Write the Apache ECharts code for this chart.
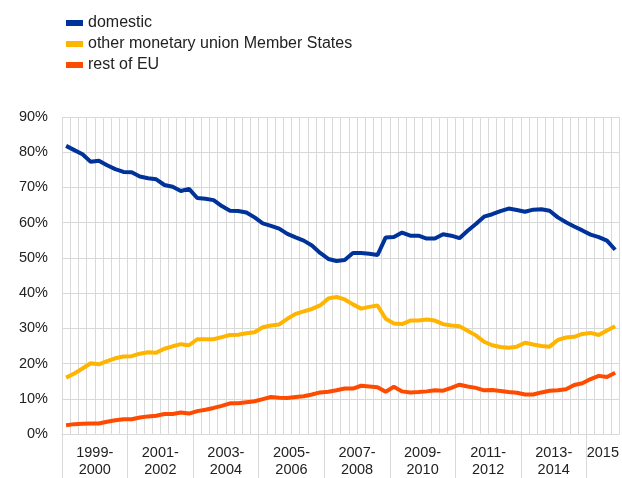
<!DOCTYPE html>
<html>
<head>
<meta charset="utf-8">
<script src="https://cdn.jsdelivr.net/npm/echarts@6/dist/echarts.min.js"></script>
<style>
  html, body { margin: 0; padding: 0; background: #fff; }
  #chart { width: 622px; height: 478px; }
</style>
</head>
<body>
<div id="chart"></div>
<script>
// quarterly data, 1999Q1 - 2015Q4 (%)
var years = [];
for (var y = 1999; y <= 2015; y++) years.push(y);
var quarters = [];
years.forEach(function (y) {
  for (var q = 1; q <= 4; q++) quarters.push(y + "Q" + q);
});

var domestic = [81.8, 80.6, 79.4, 77.3, 77.6, 76.3, 75.2, 74.4, 74.3, 73.1, 72.6, 72.3, 70.7, 70.2, 69.0, 69.6,
  67.0, 66.8, 66.4, 64.7, 63.4, 63.3, 62.9, 61.5, 59.8, 59.1, 58.3, 56.8, 55.8, 54.9, 53.5, 51.4,
  49.7, 49.1, 49.4, 51.4, 51.4, 51.2, 50.8, 55.8, 55.9, 57.2, 56.3, 56.3, 55.5, 55.5, 56.7, 56.3,
  55.6, 57.7, 59.6, 61.7, 62.4, 63.3, 64.0, 63.6, 63.1, 63.7, 63.8, 63.4, 61.5, 60.1, 58.9, 57.8,
  56.6, 55.9, 54.9, 52.3];
var otherMU = [16.0, 17.2, 18.6, 20.1, 19.8, 20.7, 21.5, 22.0, 22.1, 22.8, 23.2, 23.1, 24.2, 24.9, 25.5, 25.2,
  26.9, 26.9, 26.9, 27.5, 28.1, 28.2, 28.6, 28.9, 30.3, 30.8, 31.1, 32.7, 34.1, 34.8, 35.5, 36.5,
  38.5, 38.9, 38.2, 36.8, 35.6, 36.1, 36.5, 32.7, 31.4, 31.2, 32.2, 32.2, 32.5, 32.2, 31.2, 30.8,
  30.6, 29.3, 28.0, 26.2, 25.2, 24.7, 24.5, 24.8, 25.9, 25.4, 25.0, 24.8, 26.7, 27.4, 27.6, 28.4,
  28.7, 28.1, 29.4, 30.6];
var restEU = [2.5, 2.8, 2.9, 3.0, 3.0, 3.5, 3.9, 4.2, 4.2, 4.7, 5.0, 5.2, 5.7, 5.7, 6.1, 5.8,
  6.5, 6.9, 7.4, 8.0, 8.7, 8.7, 9.0, 9.3, 9.9, 10.5, 10.3, 10.2, 10.5, 10.7, 11.2, 11.8,
  12.0, 12.4, 12.9, 12.9, 13.7, 13.5, 13.3, 12.0, 13.4, 12.1, 11.8, 11.9, 12.1, 12.4, 12.3, 13.1,
  14.0, 13.5, 13.1, 12.4, 12.5, 12.2, 11.9, 11.7, 11.2, 11.2, 11.8, 12.3, 12.4, 12.7, 13.9, 14.4,
  15.6, 16.5, 16.2, 17.4];

// two-year bands on the x axis (quarters per band)
var bandLabels = ["1999-\n2000", "2001-\n2002", "2003-\n2004", "2005-\n2006", "2007-\n2008",
  "2009-\n2010", "2011-\n2012", "2013-\n2014", "2015"];
var bandSizes = [8, 8, 8, 8, 8, 8, 8, 8, 4];

var bandEdges = [0], bandCenters = [];
bandSizes.forEach(function (n, i) {
  bandCenters.push(bandEdges[i] + n / 2);
  bandEdges.push(bandEdges[i] + n);
});

var gridColor = "#d9d9d9";
var textColor = "#222";
var font = "Liberation Sans, Arial, sans-serif";

var myChart = echarts.init(document.getElementById("chart"));
var option = {
  animation: false,
  color: ["#003399", "#ffb400", "#ff4b00"],
  textStyle: { fontFamily: font },
  legend: {
    orient: "vertical",
    left: 61,
    top: 10,
    itemWidth: 17,
    itemHeight: 6,
    itemGap: 5,
    icon: "rect",
    textStyle: { fontSize: 16, color: textColor, fontFamily: font },
    data: ["domestic", "other monetary union Member States", "rest of EU"],
  },
  grid: {
    left: 62,
    top: 117,
    width: 561,
    bottom: 43,
  },
  xAxis: [
    {
      type: "category",
      data: quarters,
      boundaryGap: true,
      axisLine: { show: true, lineStyle: { color: gridColor, width: 1 } },
      axisTick: { show: false },
      axisLabel: { show: false },
      //每个季度一条竖线
      splitLine: { show: true, interval: 0, lineStyle: { color: gridColor, width: 1 } },
    },
    {
      // only used for the band ticks and the band labels
      type: "value",
      position: "bottom",
      min: 0,
      max: bandEdges[bandEdges.length - 1],
      axisLine: { show: false },
      splitLine: { show: false },
      axisTick: {
        show: true,
        length: 44,
        customValues: bandEdges.slice(0, -1),
        lineStyle: { color: gridColor, width: 1 },
      },
      axisLabel: {
        show: true,
        customValues: bandCenters,
        margin: 10,
        fontSize: 14.5,
        lineHeight: 17,
        color: textColor,
        fontFamily: font,
        formatter: function (v) {
          var i = bandCenters.indexOf(v);
          return i >= 0 ? bandLabels[i] : "";
        },
      },
    },
  ],
  yAxis: {
    type: "value",
    min: 0,
    max: 90,
    interval: 10,
    axisLine: { show: false },
    axisTick: { show: false },
    axisLabel: {
      formatter: "{value}%",
      fontSize: 14.5,
      color: textColor,
      margin: 14,
      fontFamily: font,
    },
    splitLine: { lineStyle: { color: gridColor, width: 1 } },
  },
  series: [
    {
      name: "domestic",
      type: "line",
      data: domestic,
      symbol: "none",
      lineStyle: { width: 4 },
    },
    {
      name: "other monetary union Member States",
      type: "line",
      data: otherMU,
      symbol: "none",
      lineStyle: { width: 4 },
    },
    {
      name: "rest of EU",
      type: "line",
      data: restEU,
      symbol: "none",
      lineStyle: { width: 4 },
    },
  ],
};
option && myChart.setOption(option);
</script>
</body>
</html>
